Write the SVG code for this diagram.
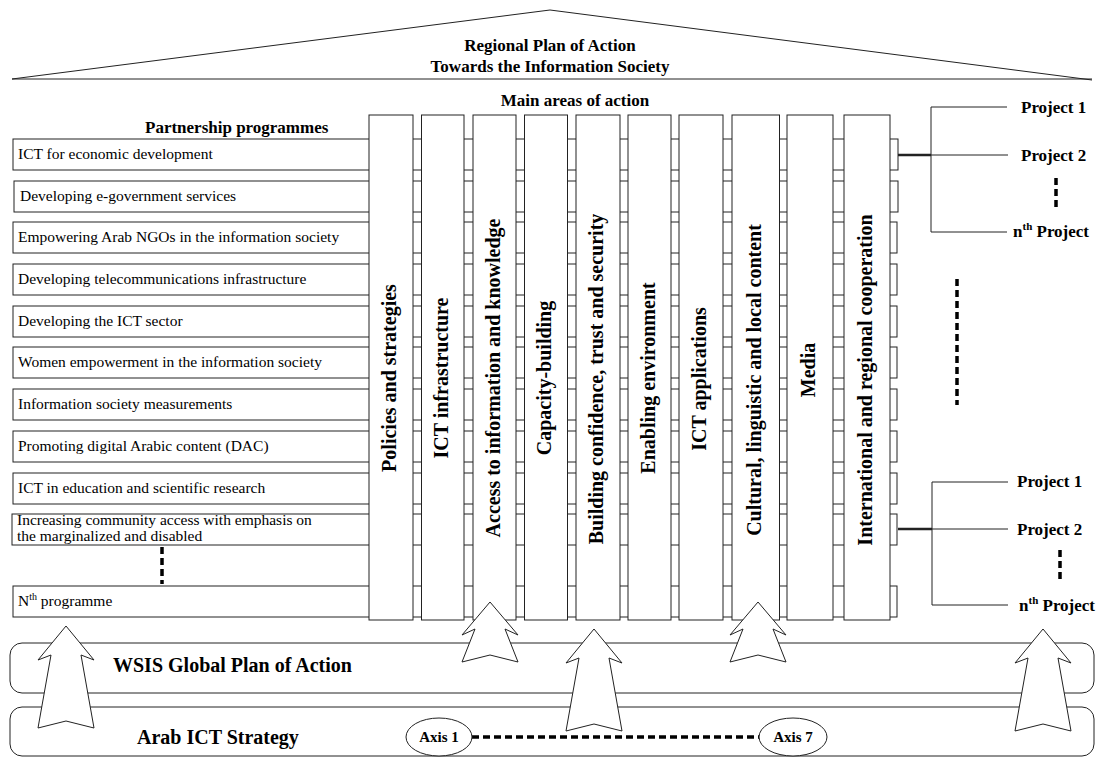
<svg xmlns="http://www.w3.org/2000/svg" width="1100" height="758" viewBox="0 0 1100 758">
<style>
.ln{fill:none;stroke:#222;stroke-width:1}
.box{fill:#fff;stroke:#222;stroke-width:1}
.t{font-family:"Liberation Serif","Times New Roman",serif;font-size:15.5px;fill:#000}
.b{font-family:"Liberation Serif","Times New Roman",serif;font-weight:bold;fill:#000}
.col{font-size:20px}
.h{font-size:17px}
.big{font-size:20px}
.dash{fill:none;stroke:#000;stroke-width:3.5;stroke-dasharray:7 4}
.arr{fill:#fff;stroke:#222;stroke-width:1}
</style>
<defs>
<path id="arrLong" d="M0,0 L28,34 L15,29 L28,102 L0,95 L-28,102 L-15,29 L-28,34 Z"/>
<path id="arrShort" d="M0,0 L28,33 L15,27 L28,60 L0,53 L-28,60 L-15,27 L-28,33 Z"/>
</defs>
<rect width="1100" height="758" fill="#fff"/>

<g id="roof">
<path class="ln" d="M12,79 L550,10 L1092,80"/>
<line class="ln" x1="12" y1="79" x2="1092" y2="79" stroke-width="1.5"/>
<text class="b h" x="550" y="51" text-anchor="middle">Regional Plan of Action</text>
<text class="b h" x="550" y="72" text-anchor="middle">Towards the Information Society</text>
</g>

<text class="b h" x="575" y="106" text-anchor="middle">Main areas of action</text>
<text class="b h" x="145" y="133">Partnership programmes</text>

<g id="rows">
<rect class="box" x="13" y="139" width="885" height="31"/>
<rect class="box" x="14" y="181" width="884" height="31"/>
<rect class="box" x="13" y="222" width="884" height="31"/>
<rect class="box" x="13" y="264" width="884" height="31"/>
<rect class="box" x="13" y="306" width="884" height="31"/>
<rect class="box" x="13" y="347" width="884" height="31"/>
<rect class="box" x="13" y="389" width="884" height="31"/>
<rect class="box" x="13" y="431" width="884" height="31"/>
<rect class="box" x="13" y="473" width="884" height="31"/>
<rect class="box" x="12" y="514" width="885" height="31"/>
<rect class="box" x="13" y="586" width="884" height="31"/>
</g>

<g id="columns">
<rect class="box" x="369" y="115" width="44" height="505"/>
<rect class="box" x="421.5" y="115" width="42.5" height="505"/>
<rect class="box" x="473" y="115" width="43" height="505"/>
<rect class="box" x="524.5" y="115" width="43" height="505"/>
<rect class="box" x="576" y="115" width="44" height="505"/>
<rect class="box" x="628" y="115" width="43" height="505"/>
<rect class="box" x="679" y="115" width="44" height="505"/>
<rect class="box" x="732" y="115" width="47.5" height="505"/>
<rect class="box" x="787" y="115" width="46" height="505"/>
<rect class="box" x="844" y="115" width="46" height="505"/>
</g>

<g id="column-labels">
<text class="b col" transform="translate(396,378) rotate(-90)" text-anchor="middle">Policies and strategies</text>
<text class="b col" transform="translate(448,378) rotate(-90)" text-anchor="middle">ICT infrastructure</text>
<text class="b col" transform="translate(500,378) rotate(-90)" text-anchor="middle">Access to information and knowledge</text>
<text class="b col" transform="translate(551,378) rotate(-90)" text-anchor="middle">Capacity-building</text>
<text class="b col" transform="translate(603,379) rotate(-90)" text-anchor="middle">Building confidence, trust and security</text>
<text class="b col" transform="translate(654.5,378) rotate(-90)" text-anchor="middle">Enabling environment</text>
<text class="b col" transform="translate(706,379) rotate(-90)" text-anchor="middle">ICT applications</text>
<text class="b col" transform="translate(761,380) rotate(-90)" text-anchor="middle">Cultural, linguistic and local content</text>
<text class="b col" transform="translate(815,370) rotate(-90)" text-anchor="middle">Media</text>
<text class="b col" transform="translate(872,380) rotate(-90)" text-anchor="middle">International and regional cooperation</text>
</g>

<g id="programme-labels">
<text class="t" x="18" y="159">ICT for economic development</text>
<text class="t" x="20" y="201">Developing e-government services</text>
<text class="t" x="18" y="242">Empowering Arab NGOs in the information society</text>
<text class="t" x="18" y="284">Developing telecommunications infrastructure</text>
<text class="t" x="18" y="326">Developing the ICT sector</text>
<text class="t" x="18" y="367">Women empowerment in the information society</text>
<text class="t" x="18" y="409">Information society measurements</text>
<text class="t" x="18" y="451">Promoting digital Arabic content (DAC)</text>
<text class="t" x="18" y="493">ICT in education and scientific research</text>
<text class="t" x="17" y="525">Increasing community access with emphasis on</text>
<text class="t" x="17" y="541">the marginalized and disabled</text>
<text class="t" x="18" y="606">N<tspan font-size="10" dy="-6">th</tspan><tspan dy="6"> programme</tspan></text>
</g>

<g id="connectors">
<line class="dash" x1="162" y1="547" x2="162" y2="584"/>
<line class="dash" x1="957" y1="279" x2="957" y2="405" stroke-width="4"/>
<line x1="898" y1="155" x2="931" y2="155" stroke="#222" stroke-width="2.5"/>
<path class="ln" d="M1007,107 H931 V232 H1007 M931,155 H1008"/>
<line class="dash" x1="1056" y1="178" x2="1056" y2="210"/>
<line x1="898" y1="529" x2="932" y2="529" stroke="#222" stroke-width="2.5"/>
<path class="ln" d="M1008,482 H932 V605 H1008 M932,529 H1008"/>
<line class="dash" x1="1060" y1="550" x2="1060" y2="583"/>
<line class="dash" x1="472" y1="737" x2="760" y2="737" stroke-width="3"/>
</g>

<g id="projects">
<text class="b h" x="1021" y="113">Project 1</text>
<text class="b h" x="1021" y="161">Project 2</text>
<text class="b h" x="1013" y="237">n<tspan font-size="11" dy="-7">th</tspan><tspan dy="7"> Project</tspan></text>
<text class="b h" x="1017" y="487">Project 1</text>
<text class="b h" x="1017" y="535">Project 2</text>
<text class="b h" x="1019" y="611">n<tspan font-size="11" dy="-7">th</tspan><tspan dy="7"> Project</tspan></text>
</g>

<g id="wsis">
<rect class="ln" x="10" y="643" width="1084" height="50" rx="12"/>
<text class="b big" x="113" y="672">WSIS Global Plan of Action</text>
</g>
<g id="arab">
<rect class="ln" x="10" y="707" width="1084" height="49" rx="12"/>
<text class="b big" x="137" y="744">Arab ICT Strategy</text>
<ellipse class="box" cx="439" cy="737" rx="33" ry="19"/>
<text class="b" font-size="15" x="439" y="742" text-anchor="middle">Axis 1</text>
<ellipse class="box" cx="793" cy="737" rx="34" ry="19"/>
<text class="b" font-size="15" x="793" y="742" text-anchor="middle">Axis 7</text>
</g>

<g id="arrows">
<use href="#arrLong" class="arr" x="66" y="626"/>
<use href="#arrShort" class="arr" x="490" y="602"/>
<use href="#arrLong" class="arr" x="594" y="629"/>
<use href="#arrShort" class="arr" x="758" y="602"/>
<use href="#arrLong" class="arr" x="1043" y="629"/>
</g>
</svg>
